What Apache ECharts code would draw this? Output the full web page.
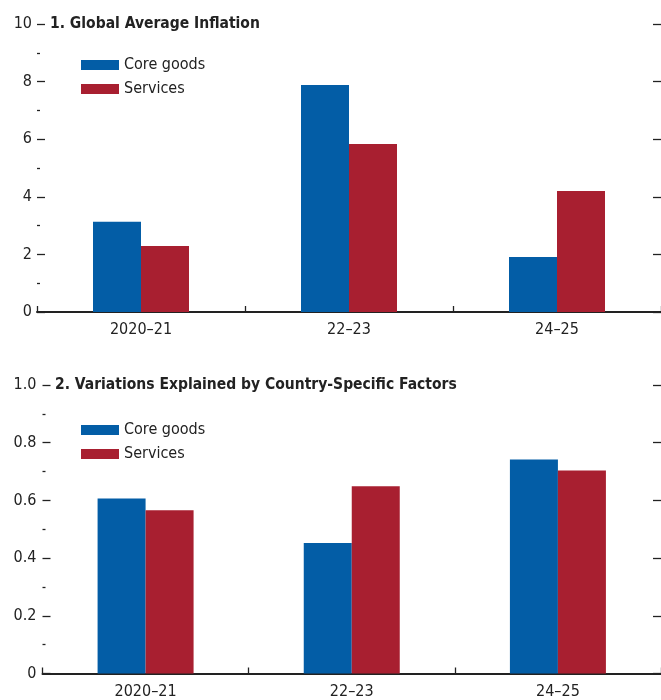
<!DOCTYPE html>
<html>
<head>
<meta charset="utf-8">
<script src="https://cdn.jsdelivr.net/npm/echarts@6/dist/echarts.min.js"></script>
<style>
html,body{margin:0;padding:0;background:#fff;}
#c{width:661px;height:700px;}
</style>
</head>
<body>
<div id="c"></div>
<script>
const categories = ['2020\u201321', '22\u201323', '24\u201325'];
const seriesNames = ['Core goods', 'Services'];
const panel1Title = '1. Global Average Inflation';
const panel2Title = '2. Variations Explained by Country-Specific Factors';
const coreGoods1 = [3.13, 7.88, 1.91];
const services1 = [2.29, 5.83, 4.20];
const coreGoods2 = [0.607, 0.452, 0.742];
const services2 = [0.566, 0.649, 0.704];

const FONT = '"Liberation Sans Narrow", "DejaVu Sans Condensed", sans-serif';
const BLUE = '#035DA6';
const RED = '#A81F30';
const INK = '#222';
const FS = 16;

const chart = echarts.init(document.getElementById('c'), null, {renderer: 'canvas'});

function leftY(gridIndex, max, interval, fmt, margin) {
  return {
    type: 'value', gridIndex, min: 0, max, interval, position: 'left',
    axisLine: {show: false},
    axisTick: {show: true, inside: true, length: 8, lineStyle: {color: INK, width: 1.3}},
    minorTick: {show: true, splitNumber: 2, length: 3, lineStyle: {color: INK, width: 1.3}},
    splitLine: {show: false},
    axisLabel: {color: INK, fontFamily: FONT, fontSize: FS, margin, formatter: fmt}
  };
}
function rightY(gridIndex, max, interval) {
  return {
    type: 'value', gridIndex, min: 0, max, interval, position: 'right',
    axisLine: {show: false},
    axisTick: {show: true, inside: true, length: 8, lineStyle: {color: INK, width: 1.3}},
    splitLine: {show: false},
    axisLabel: {show: false}
  };
}
function xAx(gridIndex) {
  return {
    type: 'category', gridIndex, data: categories, boundaryGap: true,
    axisLine: {show: true, lineStyle: {color: INK, width: 2}},
    axisTick: {show: true, inside: true, length: 6, lineStyle: {color: INK, width: 1.3}},
    axisLabel: {color: INK, fontFamily: FONT, fontSize: FS, margin: 10}
  };
}
function bar(name, data, color, xi, yi) {
  return {
    type: 'bar', name, data, xAxisIndex: xi, yAxisIndex: yi,
    barWidth: 48, barGap: '0%', itemStyle: {color}, animation: false
  };
}
function legend(top) {
  return {data: seriesNames, orient: 'vertical', left: 76, top, itemWidth: 38, itemHeight: 10,
    itemGap: 4, icon: 'rect', textStyle: {fontFamily: FONT, fontSize: FS, color: INK, lineHeight: 20}};
}

chart.setOption({
  animation: false,
  title: [
    {text: panel1Title, left: 45, top: 11,
     textStyle: {fontFamily: FONT, fontSize: 15.5, fontWeight: 'bold', color: INK}},
    {text: panel2Title, left: 50, top: 372,
     textStyle: {fontFamily: FONT, fontSize: 15.5, fontWeight: 'bold', color: INK}}
  ],
  legend: [legend(50), legend(415)],
  grid: [
    {left: 37, top: 24, width: 627.5, height: 288},
    {left: 42.5, top: 385, width: 622.5, height: 288.5}
  ],
  xAxis: [xAx(0), xAx(1)],
  yAxis: [
    leftY(0, 10, 2, v => String(v), 5),
    rightY(0, 10, 2),
    leftY(1, 1.0, 0.2, v => (v === 0 ? '0' : v.toFixed(1)), 6),
    rightY(1, 1.0, 0.2)
  ],
  series: [
    bar(seriesNames[0], coreGoods1, BLUE, 0, 0),
    bar(seriesNames[1], services1, RED, 0, 0),
    bar(seriesNames[0], coreGoods2, BLUE, 1, 2),
    bar(seriesNames[1], services2, RED, 1, 2)
  ]
});
</script>
</body>
</html>
